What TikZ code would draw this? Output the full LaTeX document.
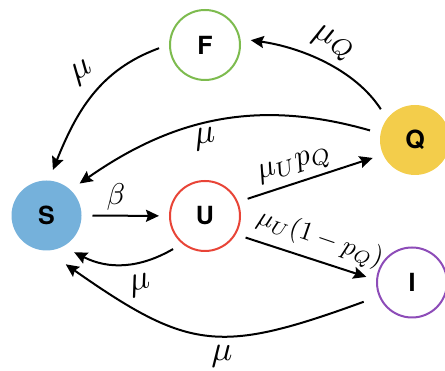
\documentclass[tikz,border=0pt]{standalone}
\usepackage{fontspec}
\newfontfamily\labfont{TeX Gyre Heros}
\usetikzlibrary{arrows.meta}
\definecolor{sblue}{HTML}{75B1DB}
\definecolor{qyellow}{HTML}{F3CD4B}
\definecolor{fgreen}{HTML}{7DBB4E}
\definecolor{ured}{HTML}{E84437}
\definecolor{ipurple}{HTML}{8D4CB8}
\tikzset{
  state/.style={circle, minimum size=70pt, inner sep=0pt, outer sep=11pt, line width=2pt,
    font=\labfont\bfseries\fontsize{25}{29}\selectfont},
  arr/.style={line width=2pt, -{Stealth[length=13pt,width=12pt,inset=2pt]}},
  lab/.style={inner sep=0pt, scale=3.5},
}
\begin{document}
\begin{tikzpicture}[x=1pt,y=1pt]
\useasboundingbox (0,0) rectangle (445,371);
\clip (0,0) rectangle (445,371);
\node[state, fill=sblue] (S) at (46.5,155.5) {S};
\node[state, draw=ured] (U) at (205,155) {U};
\node[state, draw=fgreen] (F) at (205,326) {F};
\node[state, fill=qyellow] (Q) at (415,231) {Q};
\node[state, draw=ipurple] (I) at (412,88.5) {I};

\draw[arr] (S) -- (U);
\draw[arr] (U.22) -- (Q.-157);
\draw[arr] (U.-28) -- (I.173);
\draw[arr] (U.-134) to[out=-150,in=-27] (S.-53);
\draw[arr, shorten <=6pt, shorten >=8pt] (I.-158) to[out=-160,in=-35,looseness=1.3] (S.-74);
\draw[arr] (Q.168) to[out=164,in=35] (S.44);
\draw[arr] (F.-176) to[out=-160,in=68] (S.82);
\draw[arr] (Q.138) to[out=123,in=-8,looseness=0.85] (F.6);

\node[lab, scale=3/3.5] (lb) at (116,174) {$\beta$};
\node[lab, rotate=12] (l1) at (140,86) {$\mu$};
\node[lab] (l2) at (222,15) {$\mu$};
\node[lab, rotate=8] (l3) at (205,232) {$\mu$};
\node[lab, rotate=30] (l4) at (83,298) {$\mu$};
\node[lab, rotate=-25] (l5) at (333,327) {$\mu_Q$};
\node[lab, scale=3.1/3.5, rotate=18] (l6) at (295,205) {$\mu_U p_Q$};
\node[lab, scale=2.65/3.5, rotate=-19] (l7) at (320,132) {$\mu_U(1-p_Q)$};
\end{tikzpicture}
\end{document}
